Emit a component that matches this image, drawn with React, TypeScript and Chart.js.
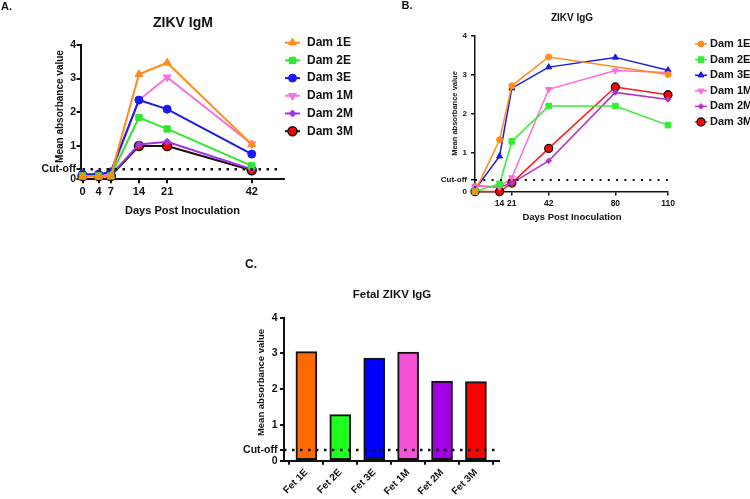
import React, { useEffect, useRef } from 'react';
import { Chart, registerables } from 'chart.js';
import { drawPoint } from 'chart.js/helpers';

Chart.register(...registerables);

const FONT = "'Liberation Sans', Arial, sans-serif";

// ---------- shared ----------
const cutoff = 0.3;
const yTicks = [0, 0.3, 1, 2, 3, 4];

// ---------- Panel A: ZIKV IgM ----------
const igmDays = [0, 4, 7, 14, 21, 42];
const igmXTicks = [0, 4, 7, 14, 21, 42];
const igmDam1E = [0.08, 0.08, 0.1, 3.13, 3.47, 1.04];
const igmDam2E = [0.1, 0.1, 0.1, 1.84, 1.5, 0.4];
const igmDam3E = [0.15, 0.15, 0.22, 2.36, 2.09, 0.75];
const igmDam1M = [0.12, 0.12, 0.15, 2.36, 3.04, 1.05];
const igmDam2M = [0.12, 0.12, 0.12, 1.04, 1.12, 0.3];
const igmDam3M = [0.1, 0.1, 0.1, 0.99, 0.99, 0.27];
const igmCutoffSpan = [0, 48.3];

// ---------- Panel B: ZIKV IgG ----------
const iggDays = [0, 14, 21, 42, 80, 110];
const iggXTicks = [14, 21, 42, 80, 110];
const iggDam1E = [0, 1.33, 2.72, 3.46, null, 3.01];
const iggDam2E = [0, 0.2, 1.29, 2.2, 2.2, 1.71];
const iggDam3E = [0.05, 0.91, 2.66, 3.2, 3.45, 3.12];
const iggDam1M = [0.15, 0.12, 0.36, 2.63, 3.11, 3.06];
const iggDam2M = [0.15, 0.11, 0.22, 0.79, 2.55, 2.37];
const iggDam3M = [0, 0, 0.22, 1.11, 2.69, 2.49];
const iggCutoffSpan = [0, 110];

// ---------- Panel C: Fetal ZIKV IgG ----------
const fetalLabels = ['Fet 1E', 'Fet 2E', 'Fet 3E', 'Fet 1M', 'Fet 2M', 'Fet 3M'];
const fetalValues = [3.05, 1.29, 2.87, 3.04, 2.23, 2.21];
const fetalColors = ['#FF6A00', '#1EFF1E', '#0000FF', '#F552D8', '#A300E6', '#FF0000'];
const fetalCutoffSpan = [-0.66, 5.68];

const pts = (xs: number[], ys: (number | null)[]) => xs.map((x, i) => ({ x, y: ys[i] }));

type Mark = { style: string; radius: number; rotation?: number; bg?: string; border?: string; bw?: number };

function series(label: string, days: number[], values: (number | null)[], color: string, width: number, m: Mark) {
  return {
    type: 'line',
    label,
    data: pts(days, values),
    borderColor: color,
    borderWidth: width,
    pointStyle: m.style,
    pointRadius: m.radius,
    pointRotation: m.rotation ?? 0,
    pointBackgroundColor: m.bg ?? color,
    pointBorderColor: m.border ?? color,
    pointBorderWidth: m.bw ?? 1,
    tension: 0,
    spanGaps: true,
    clip: false,
    order: 1,
  };
}

function cutoffLine(span: number[], width: number, dash: number[]) {
  return {
    type: 'line',
    data: span.map((x) => ({ x, y: cutoff })),
    borderColor: '#111',
    borderWidth: width,
    borderDash: dash,
    pointRadius: 0,
    clip: false,
    order: 0,
  };
}

function yScale(width: number, size: number, lw: number, pad: number) {
  return {
    type: 'linear',
    min: 0,
    max: 4,
    afterBuildTicks: (s: any) => {
      s.ticks = yTicks.map((v) => ({ value: v }));
    },
    afterFit: (s: any) => {
      s.width = width;
    },
    ticks: {
      autoSkip: false,
      padding: pad,
      color: '#111',
      font: { family: FONT, weight: 'bold', size },
      callback: (v: number) => (v === cutoff ? 'Cut-off' : String(v)),
    },
    grid: { drawOnChartArea: false, drawTicks: true, tickLength: 4, color: '#111', lineWidth: lw },
    border: { display: true, color: '#111', width: lw },
  };
}

function xScale(min: number, max: number, ticks: number[], height: number, size: number, lw: number, pad: number, labelOf?: (v: number) => string, rot = 0) {
  return {
    type: 'linear',
    min,
    max,
    offset: false,
    afterBuildTicks: (s: any) => {
      s.ticks = ticks.map((v) => ({ value: v }));
    },
    afterFit: (s: any) => {
      s.height = height;
    },
    ticks: {
      autoSkip: false,
      padding: pad,
      minRotation: rot,
      maxRotation: rot,
      color: '#111',
      font: { family: FONT, weight: 'bold', size },
      callback: (v: number) => (labelOf ? labelOf(v) : String(v)),
    },
    grid: { drawOnChartArea: false, drawTicks: true, tickLength: 4, color: '#111', lineWidth: lw },
    border: { display: true, color: '#111', width: lw },
  };
}

type TextItem = { text: string; x: number; y: number; size: number; align?: CanvasTextAlign; rotate?: boolean };
type LegendSpec = { x0: number; x1: number; textX: number; y0: number; dy: number; size: number; lineWidth: number };

function overlay(texts: TextItem[], legend?: LegendSpec) {
  return {
    id: 'overlay',
    afterDraw(chart: any) {
      const ctx: CanvasRenderingContext2D = chart.ctx;
      ctx.save();
      ctx.textBaseline = 'middle';
      texts.forEach((t) => {
        ctx.save();
        ctx.fillStyle = '#111';
        ctx.font = `bold ${t.size}px ${FONT}`;
        ctx.textAlign = t.align ?? 'center';
        ctx.translate(t.x, t.y);
        if (t.rotate) ctx.rotate(-Math.PI / 2);
        ctx.fillText(t.text, 0, 0);
        ctx.restore();
      });
      if (legend) {
        let row = 0;
        chart.data.datasets.forEach((ds: any) => {
          if (!ds.label) return;
          const y = legend.y0 + row * legend.dy;
          row++;
          ctx.setLineDash([]);
          ctx.strokeStyle = ds.borderColor;
          ctx.lineWidth = legend.lineWidth;
          ctx.beginPath();
          ctx.moveTo(legend.x0, y);
          ctx.lineTo(legend.x1, y);
          ctx.stroke();
          ctx.fillStyle = ds.pointBackgroundColor;
          ctx.strokeStyle = ds.pointBorderColor;
          ctx.lineWidth = ds.pointBorderWidth;
          drawPoint(
            ctx,
            { pointStyle: ds.pointStyle, rotation: ds.pointRotation, radius: ds.pointRadius, borderWidth: ds.pointBorderWidth } as any,
            (legend.x0 + legend.x1) / 2,
            y
          );
          ctx.fillStyle = '#111';
          ctx.font = `bold ${legend.size}px ${FONT}`;
          ctx.textAlign = 'left';
          ctx.fillText(ds.label, legend.textX, y);
        });
      }
      ctx.restore();
    },
  };
}

const baseOptions = (padding: any) => ({
  animation: false,
  responsive: false,
  maintainAspectRatio: false,
  events: [],
  layout: { padding },
  plugins: { legend: { display: false }, tooltip: { enabled: false }, title: { display: false } },
});

function makeA(): any {
  return {
    type: 'line',
    data: {
      datasets: [
        series('Dam 1E', igmDays, igmDam1E, '#FF8C1A', 2, { style: 'triangle', radius: 4.5 }),
        series('Dam 2E', igmDays, igmDam2E, '#2EE82E', 2, { style: 'rect', radius: 4.5 }),
        series('Dam 3E', igmDays, igmDam3E, '#1A1AF0', 2, { style: 'circle', radius: 4 }),
        series('Dam 1M', igmDays, igmDam1M, '#F571DC', 2, { style: 'triangle', radius: 4.5, rotation: 180 }),
        series('Dam 2M', igmDays, igmDam2M, '#A534E0', 2, { style: 'rectRot', radius: 3.5 }),
        series('Dam 3M', igmDays, igmDam3M, '#111111', 2, { style: 'circle', radius: 4.5, bg: '#FF0000', border: '#111', bw: 1.5 }),
        cutoffLine(igmCutoffSpan, 2.5, [2.5, 5.5]),
      ],
    },
    options: {
      ...baseOptions({ left: 30.5, top: 45, right: 91, bottom: 25.7 }),
      scales: {
        x: xScale(-0.5, 50, igmXTicks, 25, 11, 2, 2),
        y: yScale(50, 10.5, 2, 0.5),
      },
    },
    plugins: [
      overlay(
        [
          { text: 'A.', x: 1, y: 7, size: 11, align: 'left' },
          { text: 'ZIKV IgM', x: 183, y: 23.5, size: 14 },
          { text: 'Mean absorbance value', x: 60, y: 106.5, size: 10, rotate: true },
          { text: 'Days Post Inoculation', x: 182.5, y: 210.5, size: 11 },
        ],
        { x0: 285, x1: 300, textX: 307, y0: 42.7, dy: 17.7, size: 12, lineWidth: 2 }
      ),
    ],
  };
}

function makeB(): any {
  return {
    type: 'line',
    data: {
      datasets: [
        series('Dam 1E', iggDays, iggDam1E, '#FF8C1A', 1.5, { style: 'circle', radius: 3 }),
        series('Dam 2E', iggDays, iggDam2E, '#33EE33', 1.5, { style: 'rect', radius: 4 }),
        series('Dam 3E', iggDays, iggDam3E, '#1A1AE6', 1.5, { style: 'triangle', radius: 3.5 }),
        series('Dam 1M', iggDays, iggDam1M, '#FF6AD5', 1.5, { style: 'triangle', radius: 3.5, rotation: 180 }),
        series('Dam 2M', iggDays, iggDam2M, '#B632C9', 1.5, { style: 'rectRot', radius: 2.8 }),
        series('Dam 3M', iggDays, iggDam3M, '#FF1A1A', 1.5, { style: 'circle', radius: 4, bg: '#FF0000', border: '#111', bw: 1.3 }),
        cutoffLine(iggCutoffSpan, 2, [2, 6.3]),
      ],
    },
    options: {
      ...baseOptions({ left: 50, top: 36, right: 82, bottom: 18.4 }),
      scales: {
        x: xScale(0, 110, iggXTicks, 20, 8.5, 1.5, 3),
        y: yScale(50, 8, 1.5, 4),
      },
    },
    plugins: [
      overlay(
        [
          { text: 'B.', x: 26.5, y: 6, size: 11, align: 'left' },
          { text: 'ZIKV IgG', x: 197, y: 18.3, size: 10 },
          { text: 'Mean absorbance value', x: 80, y: 113.5, size: 7.5, rotate: true },
          { text: 'Days Post Inoculation', x: 197, y: 217, size: 9.5 },
        ],
        { x0: 320, x1: 332, textX: 335, y0: 44, dy: 15.6, size: 11, lineWidth: 1.5 }
      ),
    ],
  };
}

function makeC(): any {
  return {
    type: 'bar',
    data: {
      datasets: [
        {
          type: 'bar',
          data: pts(fetalValues.map((_, i) => i), fetalValues),
          backgroundColor: fetalColors,
          borderColor: '#111',
          borderWidth: 2,
          borderSkipped: false,
          barThickness: 21,
          order: 1,
        },
        cutoffLine(fetalCutoffSpan, 2.5, [2.5, 5.5]),
      ],
    },
    options: {
      ...baseOptions({ left: 4, top: 77.7, right: 31, bottom: 3.3 }),
      scales: {
        x: xScale(
          fetalCutoffSpan[0],
          fetalCutoffSpan[1],
          fetalLabels.map((_, i) => i),
          35,
          10,
          2,
          2,
          (v) => fetalLabels[v] ?? '',
          45
        ),
        y: yScale(50, 10.5, 2, 2.5),
      },
    },
    plugins: [
      overlay([
        { text: 'C.', x: 15, y: 25, size: 12, align: 'left' },
        { text: 'Fetal ZIKV IgG', x: 162, y: 55, size: 11.5 },
        { text: 'Mean absorbance value', x: 31.7, y: 142.5, size: 9.5, rotate: true },
      ]),
    ],
  };
}

function ChartCanvas({ make, left, top, width, height }: { make: () => any; left: number; top: number; width: number; height: number }) {
  const ref = useRef<HTMLCanvasElement>(null);
  useEffect(() => {
    const chart = new Chart(ref.current as HTMLCanvasElement, make());
    return () => chart.destroy();
  }, []);
  return (
    <canvas
      ref={ref}
      width={width}
      height={height}
      style={{ position: 'absolute', left, top, width, height, display: 'block' }}
    />
  );
}

export default function App() {
  return (
    <div style={{ position: 'absolute', left: 0, top: 0, width: 750, height: 499, background: '#fff', overflow: 'hidden' }}>
      <ChartCanvas make={makeA} left={0} top={0} width={375} height={230} />
      <ChartCanvas make={makeB} left={375} top={0} width={375} height={230} />
      <ChartCanvas make={makeC} left={230} top={240} width={300} height={259} />
    </div>
  );
}
